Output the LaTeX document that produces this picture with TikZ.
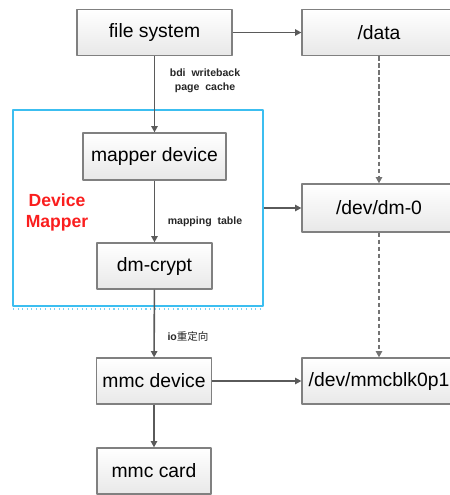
\documentclass[tikz,border=0pt]{standalone}
\usepackage{fontspec}
\setmainfont{Liberation Sans}
\newfontfamily\cjk{Noto Sans CJK SC}
\usepackage{xcolor}
\usetikzlibrary{arrows.meta}
\definecolor{boxline}{RGB}{128,128,128}
\definecolor{arrowgray}{RGB}{90,90,90}
\definecolor{frameblue}{RGB}{60,190,240}
\definecolor{dmred}{RGB}{250,30,30}
\tikzset{
	blockbox/.style={draw=boxline,line width=0.7pt,top color=white,bottom color=gray!18,
		minimum height=0.92cm,font=\fontsize{11}{13}\selectfont},
	flow/.style={-{Triangle[length=3.6pt,width=3.6pt]},draw=arrowgray,line width=0.9pt},
	dashflow/.style={flow,draw=arrowgray!85,dash pattern=on 2.5pt off 1.5pt},
	lbl/.style={font=\fontsize{6}{8}\selectfont\bfseries,align=center,text=black!85}
}

\begin{document}
\begin{tikzpicture}[line join=round,x=0.02cm,y=-0.02cm]
		\clip(0,0) rectangle (450,495);
		% left column
		\node[blockbox,minimum width=3.1cm] (fs) at (154.5,32.5) {file system};
		\node[blockbox,minimum width=2.86cm,minimum height=0.94cm] (mapper) at (154.5,156.5) {mapper device};
		\node[blockbox,minimum width=2.3cm] (crypt) at (154.5,266) {dm-crypt};
		\node[blockbox,minimum width=2.28cm] (mmcdev) at (154,381) {mmc device};
		\node[blockbox,minimum width=2.28cm] (card) at (154,471) {mmc card};
		% right column
		\node[blockbox,minimum width=3.08cm] (data) at (379,32.5) {/data};
		\node[blockbox,minimum width=3.08cm,minimum height=0.96cm] (dm0) at (379,208) {/dev/dm-0};
		\node[blockbox,minimum width=3.08cm] (blk) at (379,381) {/dev/mmcblk0p1};
		% device mapper frame
		\node[draw=frameblue,line width=0.8pt,minimum width=5cm,minimum height=3.92cm] (frame) at (138,208) {};
		\draw[frameblue!70,dotted,line width=0.6pt] (13,309)-- (263,309);
		\node[text=dmred,font=\fontsize{10}{12}\selectfont\bfseries,align=center] (dmlabel) at (57,212) {Device\\Mapper};
		% connectors
		\draw[flow] (fs) -- (mapper);
		\draw[flow] (mapper) -- (crypt);
		\draw[flow] (crypt) -- (mmcdev);
		\draw[flow] (mmcdev) -- (card);
		\draw[flow] (fs) -- (data);
		\draw[flow] (frame.east) -- (dm0.west);
		\draw[flow] (mmcdev) -- (blk);
		\draw[dashflow] (data) -- (dm0);
		\draw[dashflow] (dm0) -- (blk);
		% labels
		\node[lbl] (wb) at (205,81) {bdi\ \ writeback\\page\ \ cache};
		\node[lbl] (mt) at (205,222) {mapping\ \ table};
		\node[lbl] (io) at (188,336) {io{\cjk\mdseries 重定向}};
	\end{tikzpicture}
\end{document}
